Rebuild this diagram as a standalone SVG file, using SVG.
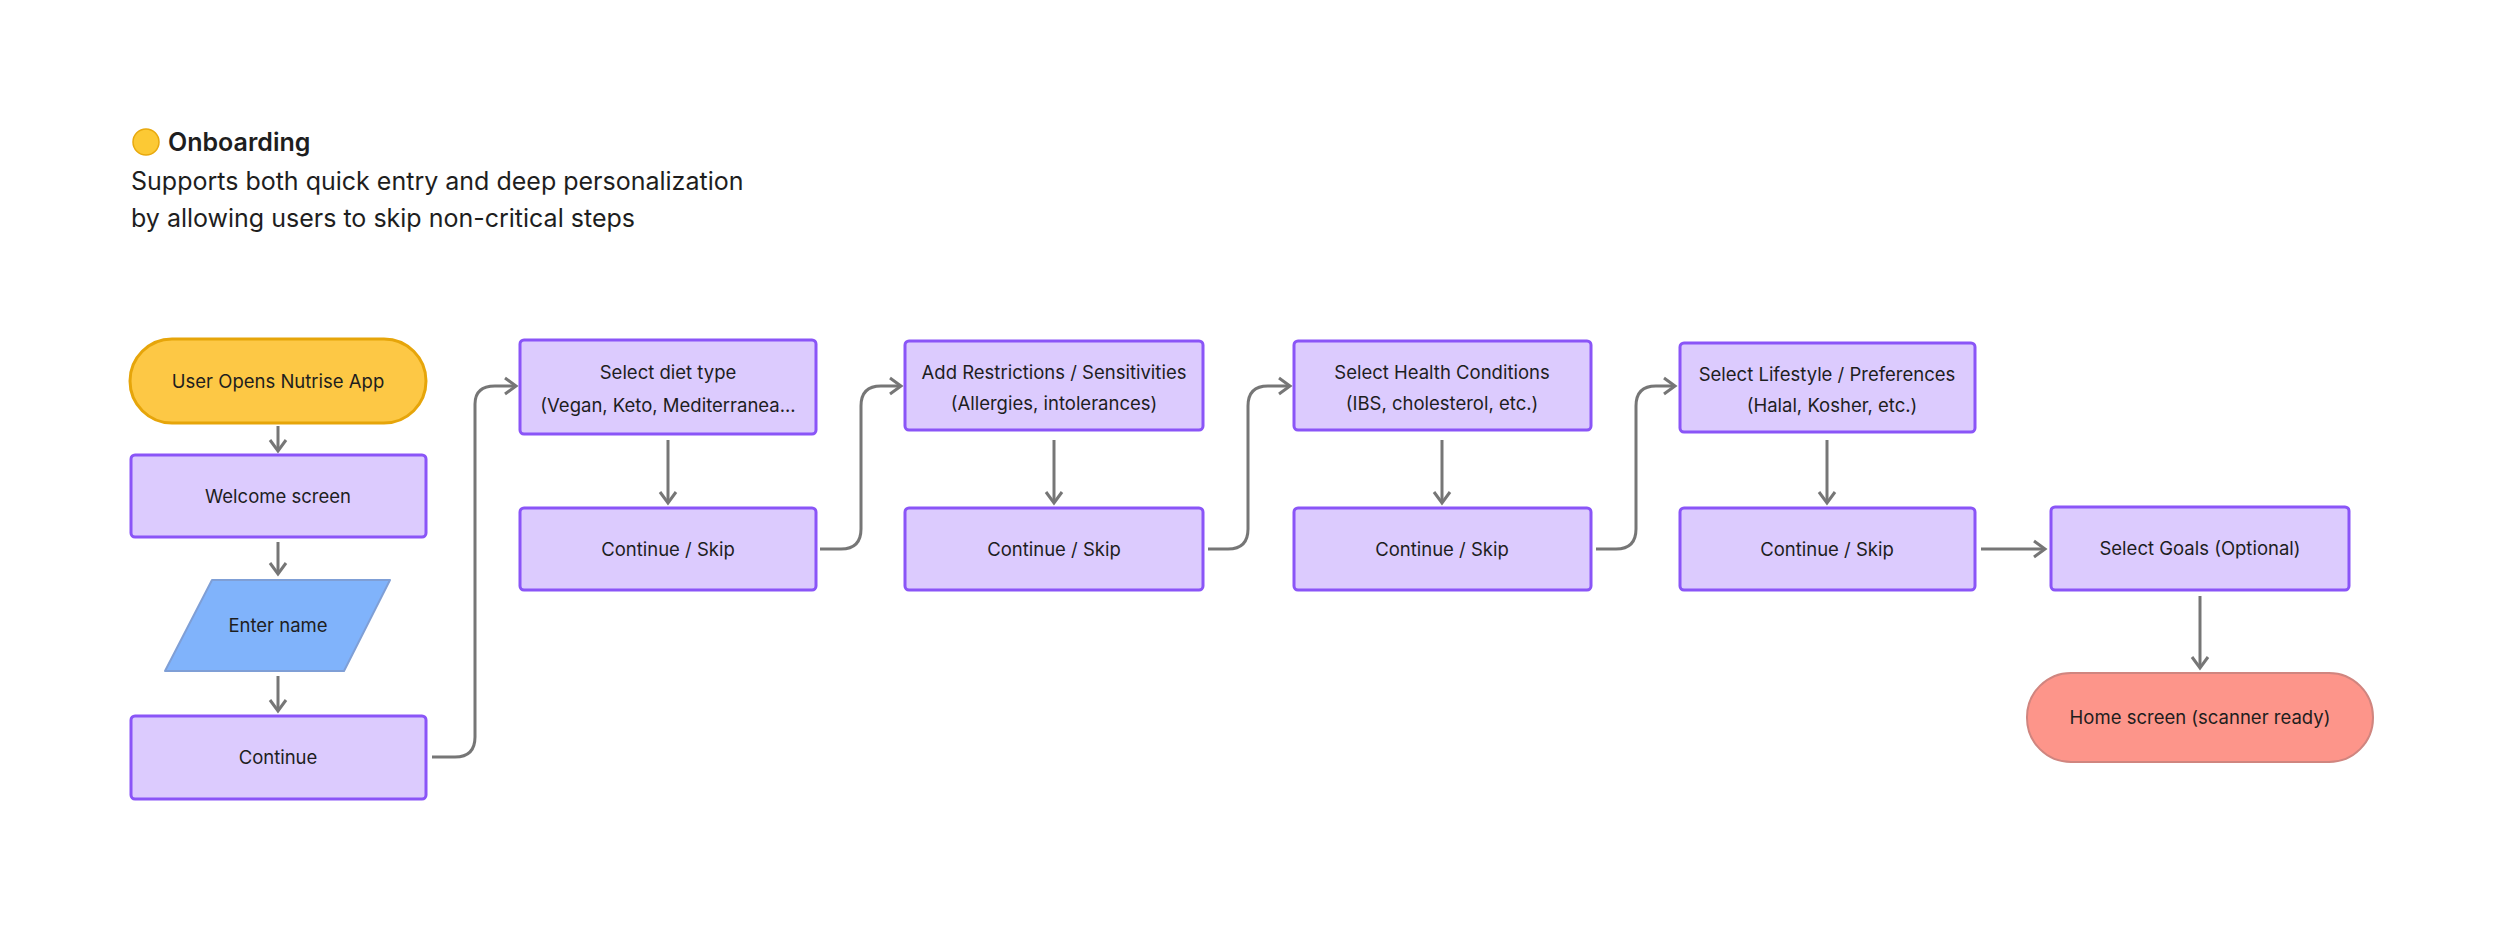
<svg xmlns="http://www.w3.org/2000/svg" width="2500" height="951" viewBox="0 0 2500 951">
<defs>
<style>
.t{font-family:Inter,"Noto Sans",sans-serif;font-size:18.5px;fill:#1e1e1e;text-anchor:middle}
.p{fill:#dccbfe;stroke:#8a55f7;stroke-width:3}
.c path{fill:none;stroke:#767676;stroke-width:3;marker-end:url(#a)}
.h{font-family:Inter,"Noto Sans",sans-serif;font-size:25px;fill:#1e1e1e}
</style>
<marker id="a" viewBox="0 0 20 20" refX="17" refY="10" markerWidth="20" markerHeight="20" markerUnits="userSpaceOnUse" orient="auto">
<path d="M6 2 L17 10 L6 18" fill="none" stroke="#767676" stroke-width="3"/>
</marker>
</defs>
<rect width="2500" height="951" fill="#fff"/>
<g id="title">
<circle cx="146" cy="142" r="13" fill="#fcc934" stroke="#e8a90e" stroke-width="1.5"/>
<text class="h" x="168" y="151" font-weight="600">Onboarding</text>
<text class="h" x="131" y="190">Supports both quick entry and deep personalization</text>
<text class="h" x="131" y="227">by allowing users to skip non-critical steps</text>
</g>
<g class="c" id="connectors">
<path d="M278 426 V451"/>
<path d="M278 542 V574"/>
<path d="M278 676 V711"/>
<path d="M432 757 H455 Q475 757 475 737 V404 Q475 386 495 386 H516"/>
<path d="M668 440 V503"/>
<path d="M820 549 H841 Q861 549 861 529 V406 Q861 386 881 386 H901"/>
<path d="M1054 440 V503"/>
<path d="M1208 549 H1228 Q1248 549 1248 529 V406 Q1248 386 1268 386 H1290"/>
<path d="M1442 440 V503"/>
<path d="M1596 549 H1616 Q1636 549 1636 529 V406 Q1636 386 1656 386 H1675"/>
<path d="M1827 440 V503"/>
<path d="M1981 549 H2045"/>
<path d="M2200 596 V668"/>
</g>
<g id="n1"><rect x="130" y="339" width="296" height="84" rx="42" fill="#fdc845" stroke="#e6a50a" stroke-width="3"/><text class="t" x="278" y="388">User Opens Nutrise App</text></g>
<g id="n2"><rect class="p" x="131" y="455" width="295" height="82" rx="4"/><text class="t" x="278" y="503">Welcome screen</text></g>
<g id="n3"><path d="M212 580 H390 L344 671 H165 Z" fill="#80b3fb" stroke="#7f9fd6" stroke-width="2" stroke-linejoin="round"/><text class="t" x="278" y="632">Enter name</text></g>
<g id="n4"><rect class="p" x="131" y="716" width="295" height="83" rx="4"/><text class="t" x="278" y="764">Continue</text></g>
<g id="n5"><rect class="p" x="520" y="340" width="296" height="94" rx="4"/><text class="t" x="668" y="379">Select diet type</text><text class="t" x="668" y="412">(Vegan, Keto, Mediterranea...</text></g>
<g id="n6"><rect class="p" x="520" y="508" width="296" height="82" rx="4"/><text class="t" x="668" y="556">Continue / Skip</text></g>
<g id="n7"><rect class="p" x="905" y="341" width="298" height="89" rx="4"/><text class="t" x="1054" y="379">Add Restrictions / Sensitivities</text><text class="t" x="1054" y="410">(Allergies, intolerances)</text></g>
<g id="n8"><rect class="p" x="905" y="508" width="298" height="82" rx="4"/><text class="t" x="1054" y="556">Continue / Skip</text></g>
<g id="n9"><rect class="p" x="1294" y="341" width="297" height="89" rx="4"/><text class="t" x="1442" y="379">Select Health Conditions</text><text class="t" x="1442" y="410">(IBS, cholesterol, etc.)</text></g>
<g id="n10"><rect class="p" x="1294" y="508" width="297" height="82" rx="4"/><text class="t" x="1442" y="556">Continue / Skip</text></g>
<g id="n11"><rect class="p" x="1680" y="343" width="295" height="89" rx="4"/><text class="t" x="1827" y="381">Select Lifestyle / Preferences</text><text class="t" x="1832" y="412">(Halal, Kosher, etc.)</text></g>
<g id="n12"><rect class="p" x="1680" y="508" width="295" height="82" rx="4"/><text class="t" x="1827" y="556">Continue / Skip</text></g>
<g id="n13"><rect class="p" x="2051" y="507" width="298" height="83" rx="4"/><text class="t" x="2200" y="555">Select Goals (Optional)</text></g>
<g id="n14"><rect x="2027" y="673" width="346" height="89" rx="44" fill="#fd958a" stroke="#d0857f" stroke-width="2"/><text class="t" x="2200" y="724">Home screen (scanner ready)</text></g>
</svg>
